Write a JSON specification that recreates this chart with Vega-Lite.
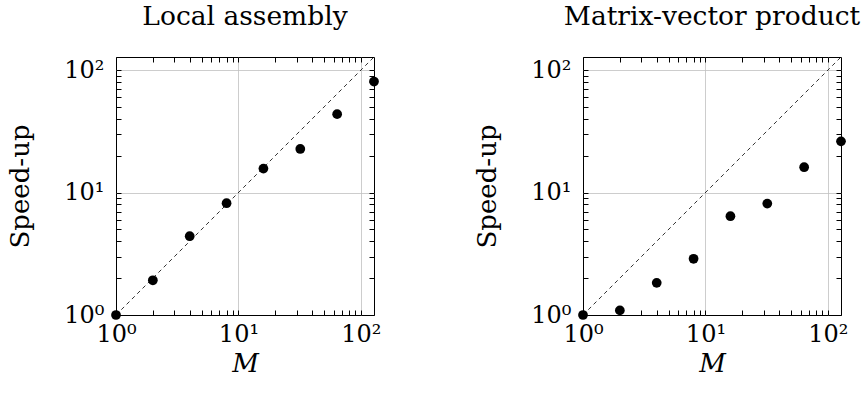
{
  "$schema": "https://vega.github.io/schema/vega-lite/v6.json",
  "padding": {"left": 7, "top": 3, "right": 5, "bottom": 5},
  "background": "white",
  "config": {
    "font": "DejaVu Serif",
    "view": {"stroke": "black", "strokeWidth": 1},
    "axis": {
      "domain": false,
      "ticks": true,
      "tickColor": "black",
      "tickWidth": 1,
      "tickSize": -5,
      "gridColor": "#c0c0c0",
      "gridWidth": 0.8,
      "labelFont": "DejaVu Serif",
      "labelFontSize": 24,
      "labelColor": "black",
      "labelFlush": false,
      "labelOverlap": false,
      "titleFont": "DejaVu Serif",
      "titleFontWeight": "normal",
      "titleColor": "black",
      "titleFontSize": 26
    },
    "title": {"font": "DejaVu Serif", "fontWeight": "normal", "fontSize": 26.5, "color": "black", "anchor": "middle", "offset": 25}
  },
  "datasets": {
    "speed": [
      {"panel": "Local assembly", "M": 1, "S": 1},
      {"panel": "Local assembly", "M": 2, "S": 1.92},
      {"panel": "Local assembly", "M": 4, "S": 4.4},
      {"panel": "Local assembly", "M": 8, "S": 8.18},
      {"panel": "Local assembly", "M": 16, "S": 15.7},
      {"panel": "Local assembly", "M": 32, "S": 22.7},
      {"panel": "Local assembly", "M": 64, "S": 43.7},
      {"panel": "Local assembly", "M": 128, "S": 80.7},
      {"panel": "Matrix-vector product", "M": 1, "S": 1},
      {"panel": "Matrix-vector product", "M": 2, "S": 1.09},
      {"panel": "Matrix-vector product", "M": 4, "S": 1.83},
      {"panel": "Matrix-vector product", "M": 8, "S": 2.88},
      {"panel": "Matrix-vector product", "M": 16, "S": 6.41},
      {"panel": "Matrix-vector product", "M": 32, "S": 8.13},
      {"panel": "Matrix-vector product", "M": 64, "S": 16.1},
      {"panel": "Matrix-vector product", "M": 128, "S": 26.2}
    ],
    "diag": [
      {"M": 1, "S": 1},
      {"M": 128, "S": 128}
    ]
  },
  "spacing": 92,
  "hconcat": [
    {
      "width": 258,
      "height": 258,
      "title": {"text": "Local assembly"},
      "resolve": {"axis": {"x": "independent", "y": "independent"}},
      "layer": [
        {
          "data": {"name": "diag"},
          "mark": {"type": "line", "color": "black", "strokeWidth": 0.8, "strokeDash": [4, 3.5]},
          "encoding": {
            "x": {"field": "M", "type": "quantitative", "scale": {"type": "log", "domain": [1, 128], "nice": false},
              "axis": {"orient": "top", "values": [1,2,3,4,5,6,7,8,9,10,20,30,40,50,60,70,80,90,100], "labels": false, "grid": false, "title": null, "tickSize": -5}},
            "y": {"field": "S", "type": "quantitative", "scale": {"type": "log", "domain": [1, 128], "nice": false},
              "axis": {"orient": "right", "values": [1,2,3,4,5,6,7,8,9,10,20,30,40,50,60,70,80,90,100], "labels": false, "grid": false, "title": null, "tickSize": -5}}
          }
        },
        {
          "data": {"name": "speed"},
          "transform": [{"filter": "datum.panel == 'Local assembly'"}],
          "mark": {"type": "circle", "size": 95, "color": "black", "opacity": 1},
          "encoding": {
            "x": {"field": "M", "type": "quantitative", "scale": {"type": "log", "domain": [1, 128], "nice": false},
              "axis": {"orient": "bottom", "values": [1,2,3,4,5,6,7,8,9,10,20,30,40,50,60,70,80,90,100],
                "labelExpr": "datum.value == 1 ? '10⁰' : datum.value == 10 ? '10¹' : datum.value == 100 ? '10²' : ''",
                "labelPadding": 12, "grid": true, "tickSize": -5,
                "gridOpacity": {"condition": {"test": "datum.value == 10 || datum.value == 100", "value": 1}, "value": 0},
                "title": "M", "titleFontStyle": "italic", "titlePadding": 4}},
            "y": {"field": "S", "type": "quantitative", "scale": {"type": "log", "domain": [1, 128], "nice": false},
              "axis": {"orient": "left", "values": [1,2,3,4,5,6,7,8,9,10,20,30,40,50,60,70,80,90,100],
                "labelExpr": "datum.value == 1 ? '10⁰' : datum.value == 10 ? '10¹' : datum.value == 100 ? '10²' : ''",
                "labelPadding": 17, "grid": true, "tickSize": -5,
                "gridOpacity": {"condition": {"test": "datum.value == 10 || datum.value == 100", "value": 1}, "value": 0},
                "title": "Speed-up", "titlePadding": 30}}
          }
        }
      ]
    },
    {
      "width": 258,
      "height": 258,
      "title": {"text": "Matrix-vector product"},
      "resolve": {"axis": {"x": "independent", "y": "independent"}},
      "layer": [
        {
          "data": {"name": "diag"},
          "mark": {"type": "line", "color": "black", "strokeWidth": 0.8, "strokeDash": [4, 3.5]},
          "encoding": {
            "x": {"field": "M", "type": "quantitative", "scale": {"type": "log", "domain": [1, 128], "nice": false},
              "axis": {"orient": "top", "values": [1,2,3,4,5,6,7,8,9,10,20,30,40,50,60,70,80,90,100], "labels": false, "grid": false, "title": null, "tickSize": -5}},
            "y": {"field": "S", "type": "quantitative", "scale": {"type": "log", "domain": [1, 128], "nice": false},
              "axis": {"orient": "right", "values": [1,2,3,4,5,6,7,8,9,10,20,30,40,50,60,70,80,90,100], "labels": false, "grid": false, "title": null, "tickSize": -5}}
          }
        },
        {
          "data": {"name": "speed"},
          "transform": [{"filter": "datum.panel == 'Matrix-vector product'"}],
          "mark": {"type": "circle", "size": 95, "color": "black", "opacity": 1},
          "encoding": {
            "x": {"field": "M", "type": "quantitative", "scale": {"type": "log", "domain": [1, 128], "nice": false},
              "axis": {"orient": "bottom", "values": [1,2,3,4,5,6,7,8,9,10,20,30,40,50,60,70,80,90,100],
                "labelExpr": "datum.value == 1 ? '10⁰' : datum.value == 10 ? '10¹' : datum.value == 100 ? '10²' : ''",
                "labelPadding": 12, "grid": true, "tickSize": -5,
                "gridOpacity": {"condition": {"test": "datum.value == 10 || datum.value == 100", "value": 1}, "value": 0},
                "title": "M", "titleFontStyle": "italic", "titlePadding": 4}},
            "y": {"field": "S", "type": "quantitative", "scale": {"type": "log", "domain": [1, 128], "nice": false},
              "axis": {"orient": "left", "values": [1,2,3,4,5,6,7,8,9,10,20,30,40,50,60,70,80,90,100],
                "labelExpr": "datum.value == 1 ? '10⁰' : datum.value == 10 ? '10¹' : datum.value == 100 ? '10²' : ''",
                "labelPadding": 17, "grid": true, "tickSize": -5,
                "gridOpacity": {"condition": {"test": "datum.value == 10 || datum.value == 100", "value": 1}, "value": 0},
                "title": "Speed-up", "titlePadding": 30}}
          }
        }
      ]
    }
  ]
}
